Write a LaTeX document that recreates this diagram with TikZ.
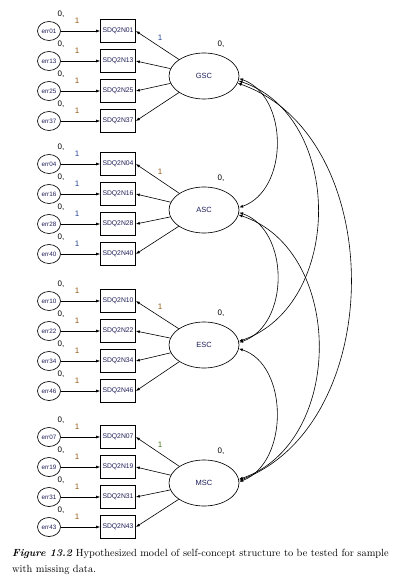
\documentclass[tikz,border=0pt]{standalone}
\usepackage{fontspec}
\newfontfamily\arial{Liberation Sans}
\usetikzlibrary{shapes.geometric,arrows.meta}
\definecolor{navy}{RGB}{30,30,90}
\definecolor{orng}{RGB}{150,90,20}
\definecolor{blu}{RGB}{40,70,150}
\definecolor{grn}{RGB}{70,120,30}
\begin{document}
\begin{tikzpicture}[x=1pt,y=-1pt,
  errn/.style={ellipse, draw, line width=0.65pt, minimum width=23pt, minimum height=19pt, inner sep=0pt, font=\arial\fontsize{6.3}{6}\selectfont, text=navy},
  obs/.style={rectangle, draw, line width=0.65pt, minimum width=35pt, minimum height=23pt, inner sep=0pt, font=\arial\fontsize{6.8}{7}\selectfont, text=navy},
  lat/.style={ellipse, draw, line width=0.65pt, minimum width=70pt, minimum height=46pt, inner sep=0pt, font=\arial\fontsize{7.5}{8}\selectfont, text=navy},
  arr/.style={-{Latex[length=4pt,width=3pt]}, line width=0.6pt},
  cov/.style={{Latex[length=4pt,width=3pt]}-{Latex[length=4pt,width=3pt]}, line width=0.6pt},
  lbl/.style={font=\arial\fontsize{8}{8}\selectfont, inner sep=0pt}]
\useasboundingbox (0,0) rectangle (411,585);
\foreach \lat/\ly/\ry/\idA/\idB/\idC/\idD/\ca/\cb in
  {GSC/76/31/01/13/25/37/orng/blu,
   ASC/210/164/04/16/28/40/blu/orng,
   ESC/345/301/10/22/34/46/orng/orng,
   MSC/483/437/07/19/31/43/orng/grn} {
  \node[lat] (\lat) at (204,\ly) {\lat};
  \foreach \id [count=\k from 0] in {\idA,\idB,\idC,\idD} {
    \pgfmathsetmacro\yy{\ry+30*\k}
    \node[errn] (err\id) at (49,\yy) {err\id};
    \node[obs] (SDQ2N\id) at (118,\yy) {SDQ2N\id};
    \draw[arr] (err\id) -- (SDQ2N\id);
    \draw[arr] (\lat) -- (SDQ2N\id.east);
    \node[lbl] at (61,\yy-17) {0,};
    \node[lbl,text=\ca] at (77,\yy-10) {1};
  }
  \node[lbl] at (221,\ly-32) {0,};
  \node[lbl,text=\cb] at (160,\ly-38) {1};
}
\draw[cov] (GSC.-4) .. controls (289,96) and (289,190) .. (ASC.4);
\draw[cov] (ASC.-4) .. controls (290,230) and (290,325) .. (ESC.4);
\draw[cov] (ESC.-6) .. controls (289,365) and (289,463) .. (MSC.2);
\draw[cov] (GSC.-8) .. controls (344,116) and (344,305) .. (ESC.6);
\draw[cov] (ASC.-8) .. controls (345,250) and (345,443) .. (MSC.6);
\draw[cov] (GSC.-12) .. controls (388,136) and (388,423) .. (MSC.4);
\node[anchor=north west, align=left, inner sep=0pt, font=\fontsize{10.4}{16}\selectfont] (cap) at (12,549)
  {\textbf{\textit{Figure 13.2}} Hypothesized model of self-concept structure to be tested for sample\\with missing data.};
\end{tikzpicture}
\end{document}
